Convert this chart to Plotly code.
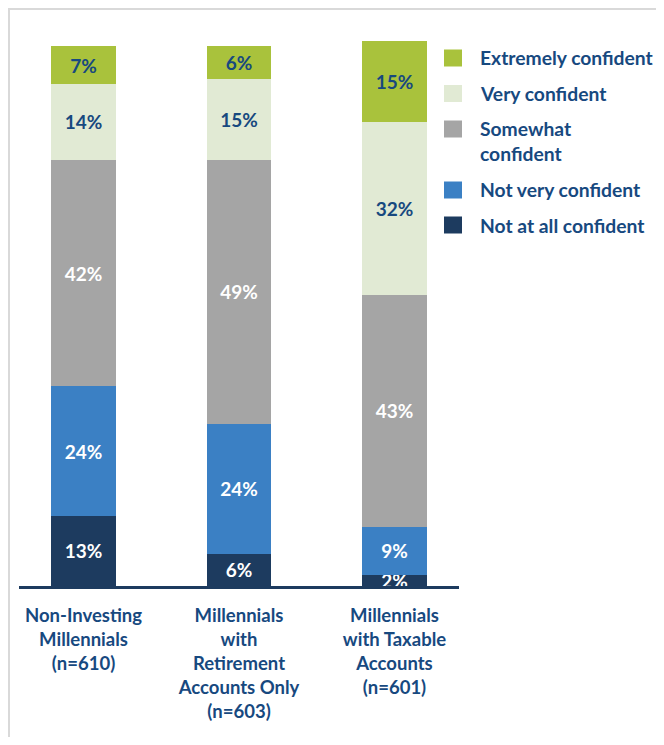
import plotly.graph_objects as go

categories = [
    "Non-Investing<br>Millennials<br>(n=610)",
    "Millennials<br>with<br>Retirement<br>Accounts Only<br>(n=603)",
    "Millennials<br>with Taxable<br>Accounts<br>(n=601)",
]
series_names = ["Not at all confident", "Not very confident", "Somewhat confident",
                "Very confident", "Extremely confident"]
legend_labels = ["Not at all confident", "Not very confident", "Somewhat<br>confident",
                 "Very confident", "Extremely confident"]
not_at_all = [13, 6, 2]
not_very = [24, 24, 9]
somewhat = [42, 49, 43]
very = [14, 15, 32]
extremely = [7, 6, 15]
values = [not_at_all, not_very, somewhat, very, extremely]
colors = ["#1d3b5f", "#3b80c4", "#a5a5a5", "#e1ead4", "#a9c23c"]
text_colors = ["#ffffff", "#ffffff", "#ffffff", "#17497f", "#17497f"]

DARK = "#17497f"
FONT = "Lato"

# page body has an 8px margin on each side; work in page pixels and convert
OFF = 8
W, H = 664 - 2 * OFF, 745 - 2 * OFF
L, T = 19 - OFF, 41 - OFF
R = W - L - (459 - 19)
B = H - T - (586 - 41)
pw, ph = W - L - R, H - T - B

def px(x):
    return (x - OFF - L) / pw

def py(y):
    return (T + ph - (y - OFF)) / ph

fig = go.Figure()
for name, vals, col, tcol in zip(series_names, values, colors, text_colors):
    fig.add_trace(go.Bar(
        x=categories, y=vals, name=name,
        marker=dict(color=col, line=dict(width=0)),
        width=0.418,
        text=[f"{v}%" for v in vals],
        textposition="inside",
        insidetextanchor="middle",
        constraintext="none",
        textangle=0,
        cliponaxis=False,
        textfont=dict(family=FONT, size=19, color=tcol, weight="bold"),
        hoverinfo="skip",
        showlegend=False,
    ))

shapes = []
annotations = []
# frame
shapes.append(dict(type="rect", xref="paper", yref="paper",
                   x0=px(8.5), x1=px(720), y0=py(800), y1=py(8.5),
                   line=dict(color="#d9d9d9", width=3), fillcolor="rgba(0,0,0,0)",
                   layer="below"))

# custom legend (top to bottom)
legend_rows = [(4, 58), (3, 93.5), (2, 129), (1, 190), (0, 225)]
for idx, cy in legend_rows:
    shapes.append(dict(type="rect", xref="paper", yref="paper",
                       x0=px(444), x1=px(462), y0=py(cy + 8.5), y1=py(cy - 8.5),
                       fillcolor=colors[idx], line=dict(width=0)))
    two = "<br>" in legend_labels[idx]
    annotations.append(dict(
        xref="paper", yref="paper", x=px(478), y=py(cy + (12 if two else 0)),
        text=legend_labels[idx], showarrow=False, xanchor="left", yanchor="middle",
        align="left",
        font=dict(family=FONT, size=19.3, color=DARK, weight="bold"),
    ))

fig.update_layout(
    width=W, height=H,
    margin=dict(l=L, r=R, t=T, b=B, pad=0),
    barmode="stack",
    paper_bgcolor="white", plot_bgcolor="white",
    shapes=shapes, annotations=annotations,
    showlegend=False,
    xaxis=dict(
        range=[-0.415, 2.415], showgrid=False, zeroline=False,
        showline=True, linecolor="#1d3b5f", linewidth=2.5,
        ticks="outside", ticklen=11, tickcolor="rgba(0,0,0,0)",
        tickfont=dict(family=FONT, size=18.5, color=DARK, weight="bold"),
        fixedrange=True,
    ),
    yaxis=dict(range=[0, 101], visible=False, fixedrange=True),
)

fig.write_html("out.html")
